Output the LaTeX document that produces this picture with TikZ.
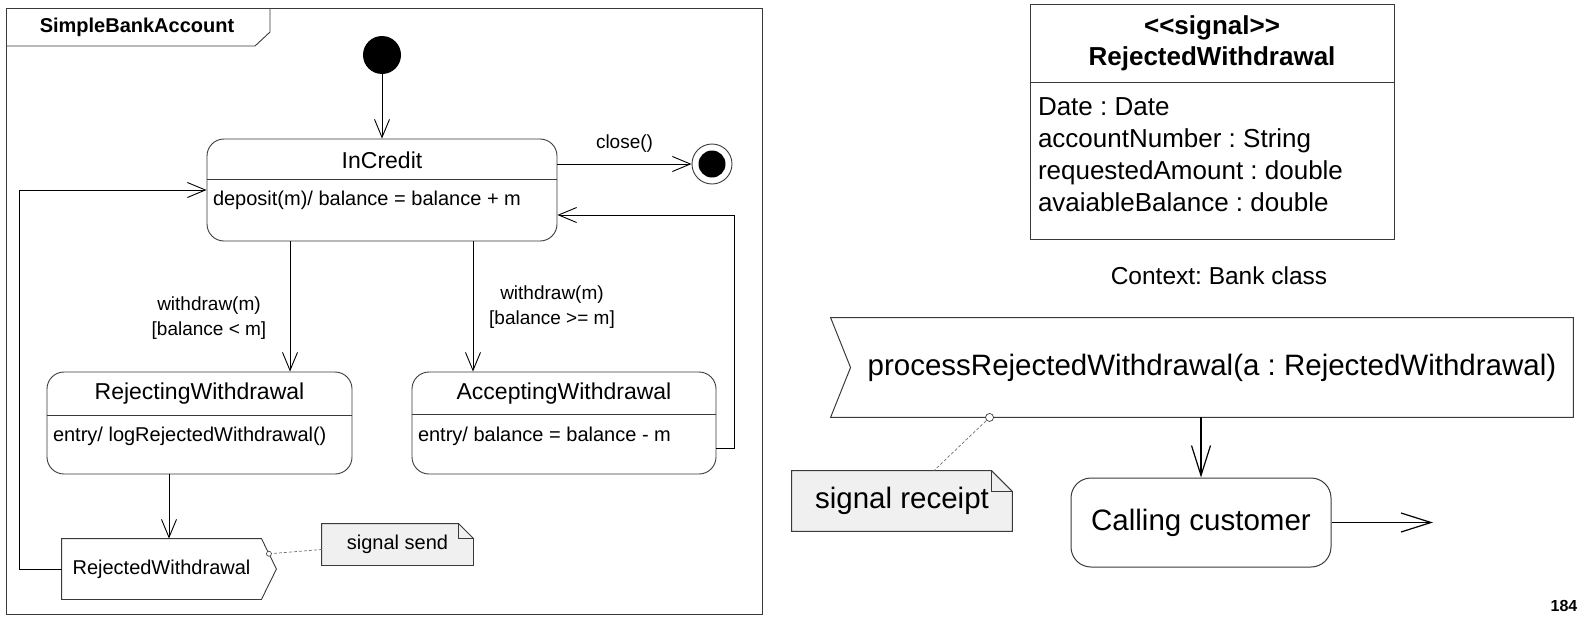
\documentclass[tikz,border=0pt]{standalone}
\usepackage{fontspec}
\setmainfont{Liberation Sans}
\usetikzlibrary{arrows.meta,calc}
\definecolor{Edge}{HTML}{3A3A3A}
\definecolor{NoteFill}{HTML}{F0F0F0}
\definecolor{Dash}{HTML}{707070}
\frenchspacing

\begin{document}
\begin{tikzpicture}[x=1pt,y=-1pt,line width=0.9pt,
    st/.style={draw=Edge,rounded corners=17pt,minimum height=102pt,inner sep=0pt},
    sttitle/.style={inner sep=0pt,font=\fontsize{23}{27}\selectfont},
    stbody/.style={inner sep=0pt,anchor=west,font=\fontsize{20}{24}\selectfont},
    lbl/.style={inner sep=0pt,align=center,font=\fontsize{19}{25}\selectfont},
    arr/.style={-{Straight Barb[length=18pt,width=15pt]}},
    bigarr/.style={line width=1.2pt,-{Straight Barb[length=30pt,width=19pt]}},
    notebox/.style={draw=Edge,fill=NoteFill},
    anchorline/.style={draw=Dash,line width=0.7pt,dash pattern=on 3pt off 2pt}]
\useasboundingbox (0,0) rectangle (1584,616);

% state machine frame
\draw[Edge] (6,8) rectangle (762,614);
\draw[Edge] (6,46) -- (255,46) -- (270,32) -- (270,8);
\node[inner sep=0pt,font=\bfseries\fontsize{20}{24}\selectfont] (frm) at (137,27) {SimpleBankAccount};

% states
\node[circle,fill=black,minimum size=38pt,inner sep=0pt] (init) at (382,55) {};

\node[st,minimum width=350pt] (ic) at (382,190) {};
\draw[Edge] ([yshift=-41pt]ic.north west) -- ([yshift=-41pt]ic.north east);
\node[sttitle] (ict) at ([yshift=-21.5pt]ic.north) {InCredit};
\node[stbody] (icb) at ([xshift=6pt,yshift=-62pt]ic.north west) {deposit(m)/ balance = balance + m};

\node[st,minimum width=305pt] (rj) at (199.5,423) {};
\draw[Edge] ([yshift=-44pt]rj.north west) -- ([yshift=-44pt]rj.north east);
\node[sttitle] (rjt) at ([yshift=-22pt]rj.north) {RejectingWithdrawal};
\node[stbody] (rjb) at ([xshift=6pt,yshift=-65pt]rj.north west) {entry/ logRejectedWithdrawal()};

\node[st,minimum width=304pt] (ac) at (564,423) {};
\draw[Edge] ([yshift=-43pt]ac.north west) -- ([yshift=-43pt]ac.north east);
\node[sttitle] (act) at ([yshift=-22pt]ac.north) {AcceptingWithdrawal};
\node[stbody] (acb) at ([xshift=6pt,yshift=-65pt]ac.north west) {entry/ balance = balance - m};

\node[circle,draw=Edge,minimum size=40pt,inner sep=0pt] (fin) at (712,164) {};
\node[circle,fill=black,minimum size=27pt,inner sep=0pt] (finc) at (fin) {};

% signal send
\node[inner sep=0pt,minimum width=199pt,minimum height=60pt,font=\fontsize{20}{24}\selectfont] (sig) at (161.5,569) {RejectedWithdrawal};
\coordinate (sigtip) at ($(sig.east)+(15,0)$);
\draw[Edge] (sig.north west) -- (sig.north east) -- (sigtip) -- (sig.south east) -- (sig.south west) -- cycle;

\node[minimum width=151pt,minimum height=41pt] (ns) at (397.5,544.5) {};
\draw[notebox] (ns.south west) -- (ns.north west) -- ([xshift=-15pt]ns.north east) -- ([yshift=-15pt]ns.north east) -- (ns.south east) -- cycle;
\draw[Edge] ([xshift=-15pt]ns.north east) |- ([yshift=-15pt]ns.north east);
\node[inner sep=0pt,font=\fontsize{20}{24}\selectfont] (nst) at (ns) {signal send};
\coordinate (sd) at ($(sig.north east)!0.5!(sigtip)$);
\draw[anchorline] (sd) -- ([yshift=-5pt]ns.west);
\draw[Edge,line width=0.6pt,fill=white] (sd) circle[radius=2.5pt];

% transitions
\draw[arr] (init) -- (ic);
\draw[arr] (ic.east |- fin) -- node[lbl,above=11pt] (cl) {close()} (fin);
\draw[arr] ([xshift=-92pt]ic.south) -- ([xshift=-92pt]ic.south |- rj.north);
\draw[arr] ([xshift=91pt]ic.south) -- ([xshift=91pt]ic.south |- ac.north);
\node[lbl] (lwl) at (209,318) {withdraw(m)\\{}[balance < m]};
\node[lbl] (lwr) at (552,307) {withdraw(m)\\{}[balance >= m]};
\draw[arr] ([yshift=-25pt]ac.east) -- ++(18,0) |- ([yshift=-25pt]ic.east);
\draw[arr] ([xshift=-30.5pt]rj.south) -- ([xshift=-30.5pt]rj.south |- sig.north);
\draw[arr] (sig.west) -- ++(-42,0) |- (ic.west);

% signal class
\node[draw=Edge,minimum width=364pt,minimum height=235pt,inner sep=0pt] (cls) at (1212,121.5) {};
\draw[Edge] ([yshift=-79pt]cls.north west) -- ([yshift=-79pt]cls.north east);
\node[inner sep=0pt,align=center,font=\bfseries\fontsize{26}{31}\selectfont] (clst) at ([yshift=-39.5pt]cls.north) {<\kern0pt<signal>\kern0pt>\\RejectedWithdrawal};
\node[inner sep=0pt,anchor=west,align=left,font=\fontsize{26}{32}\selectfont] (clsa) at ([xshift=8pt,yshift=-151pt]cls.north west) {Date : Date\\accountNumber : String\\requestedAmount : double\\avaiableBalance : double};
\node[inner sep=0pt,font=\fontsize{24.5}{29}\selectfont] (ctx) at (1219,276) {Context: Bank class};

% accept event
\node[inner sep=0pt,minimum width=722pt,minimum height=99pt,font=\fontsize{29.5}{35}\selectfont] (acc) at (1212,367.5) {processRejectedWithdrawal(a : RejectedWithdrawal)};
\draw[Edge,line width=1pt] ([xshift=-20pt]acc.north west) -- (acc.north east) -- (acc.south east) -- ([xshift=-20pt]acc.south west) -- (acc.west) -- cycle;

\node[minimum width=220pt,minimum height=60pt] (nr) at (902,501) {};
\draw[notebox,line width=1pt] (nr.south west) -- (nr.north west) -- ([xshift=-21pt]nr.north east) -- ([yshift=-21pt]nr.north east) -- (nr.south east) -- cycle;
\draw[Edge,line width=1pt] ([xshift=-21pt]nr.north east) |- ([yshift=-21pt]nr.north east);
\node[inner sep=0pt,font=\fontsize{29.5}{35}\selectfont] (nrt) at (nr) {signal receipt};
\coordinate (rd) at ([xshift=139pt]acc.south west);
\draw[anchorline] (rd) -- ([xshift=32pt]nr.north);
\draw[Edge,fill=white,line width=0.7pt] (rd) circle[radius=4pt];

\node[draw=Edge,rounded corners=20pt,minimum width=260pt,minimum height=89pt,line width=1pt,font=\fontsize{29.5}{35}\selectfont] (call) at (1201,522.5) {Calling customer};
\draw[bigarr] (call.north |- acc.south) -- (call.north);
\coordinate (callend) at (1433,522.5);
\draw[bigarr] (call.east) -- (callend);

\node[inner sep=0pt,font=\bfseries\fontsize{16}{19}\selectfont] (pg) at (1564,606) {184};
\end{tikzpicture}
\end{document}
